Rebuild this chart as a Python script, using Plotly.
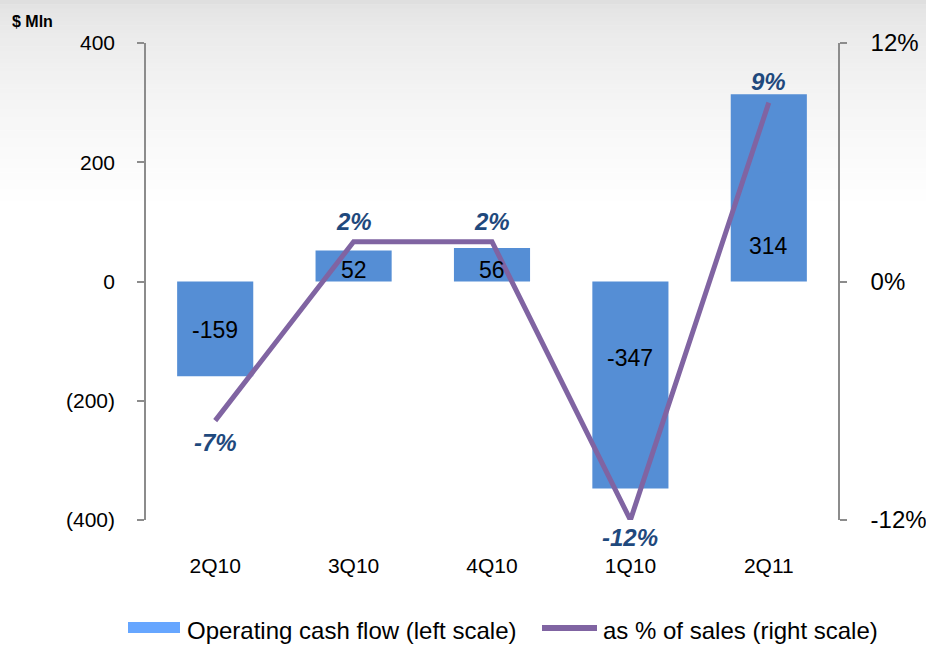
import plotly.graph_objects as go

# Quarterly operating cash flow and its share of sales
quarters = ["2Q10", "3Q10", "4Q10", "1Q10", "2Q11"]
cash_flow_mln = [-159, 52, 56, -347, 314]
pct_of_sales = [-7, 2, 2, -12, 9]

left_tick_vals = [400, 200, 0, -200, -400]
left_tick_text = ["400", "200", "0", "(200)", "(400)"]
right_tick_vals = [12, 0, -12]
right_tick_text = ["12%", "0%", "-12%"]

bar_name = "Operating cash flow (left scale)"
line_name = "as % of sales (right scale)"

BAR_COLOR = "#558ED5"
LEGEND_BAR_COLOR = "#66A6FF"
LINE_COLOR = "#8064A2"
PCT_COLOR = "#1F497D"
AXIS_COLOR = "#8C8C8C"
FONT = "Arial, Liberation Sans, sans-serif"

W, H = 926, 645
M_L, M_R, M_T, M_B = 146, 88, 43, 125
plot_w = W - M_L - M_R
plot_h = H - M_T - M_B


def px_x(x_px):
    """page x in pixels -> paper fraction"""
    return (x_px - M_L) / plot_w


def px_y(y_px):
    """page y in pixels (from top) -> paper fraction"""
    return (H - M_B - y_px) / plot_h


# vertical offsets (px) of the value labels inside the bars, relative to the zero line
label_shift_px = [-48, 12, 12, -76, 36]
# offsets (px) of the percentage labels from the line vertices
pct_shift_px = [-22, 20, 20, -17, 21]

fig = go.Figure()

fig.add_trace(go.Bar(
    x=quarters, y=cash_flow_mln, width=0.55,
    marker=dict(color=BAR_COLOR, line=dict(width=0)),
    name=bar_name, yaxis="y", xaxis="x", hoverinfo="x+y",
))

fig.add_trace(go.Scatter(
    x=quarters, y=pct_of_sales, yaxis="y2", xaxis="x",
    mode="lines", line=dict(color=LINE_COLOR, width=5),
    name=line_name, cliponaxis=False,
))

# value labels inside the bars
for q, v, dy in zip(quarters, cash_flow_mln, label_shift_px):
    fig.add_annotation(
        x=q, y=0, xref="x", yref="y", text=str(v), showarrow=False,
        yshift=dy, font=dict(family=FONT, size=23, color="#000000"),
    )

# percentage labels at the line vertices
for q, v, dy in zip(quarters, pct_of_sales, pct_shift_px):
    fig.add_annotation(
        x=q, y=v, xref="x", yref="y2", text=f"{v}%", showarrow=False,
        yshift=dy,
        font=dict(family=FONT, size=24, color=PCT_COLOR, weight="bold", style="italic"),
    )

# soft grey gradient across the top of the page
bands = 50
bottom_px = 210
for i in range(bands):
    y0_px = bottom_px * i / bands
    y1_px = bottom_px * (i + 1) / bands
    t = i / (bands - 1)
    g = int(round(223 + (255 - 223) * t ** 0.55))
    fig.add_shape(
        type="rect", xref="paper", yref="paper", layer="below",
        x0=px_x(0), x1=px_x(W),
        y0=px_y(y1_px + 0.5), y1=px_y(y0_px),
        fillcolor=f"rgb({g},{g},{g})", line=dict(width=0),
    )

fig.add_annotation(
    x=px_x(10), xanchor="left", y=px_y(21), yanchor="middle",
    xref="paper", yref="paper", text="<b>$ Mln</b>", showarrow=False,
    font=dict(family=FONT, size=16, color="#000000"),
)

# legend row
LEG_Y = 630
fig.add_shape(
    type="rect", xref="paper", yref="paper",
    x0=px_x(128), x1=px_x(180), y0=px_y(633), y1=px_y(622),
    fillcolor=LEGEND_BAR_COLOR, line=dict(width=0),
)
fig.add_annotation(
    x=px_x(185), xanchor="left", y=px_y(LEG_Y), yanchor="middle",
    xref="paper", yref="paper", text=bar_name, showarrow=False,
    font=dict(family=FONT, size=24, color="#000000"),
)
fig.add_shape(
    type="line", xref="paper", yref="paper",
    x0=px_x(542), x1=px_x(597), y0=px_y(628), y1=px_y(628),
    line=dict(color=LINE_COLOR, width=6),
)
fig.add_annotation(
    x=px_x(601), xanchor="left", y=px_y(LEG_Y), yanchor="middle",
    xref="paper", yref="paper", text=line_name, showarrow=False,
    font=dict(family=FONT, size=24, color="#000000"),
)

fig.update_layout(
    width=W, height=H, autosize=False,
    margin=dict(l=M_L, r=M_R, t=M_T, b=M_B, pad=0, autoexpand=False),
    paper_bgcolor="#ffffff", plot_bgcolor="rgba(0,0,0,0)",
    font=dict(family=FONT, size=20, color="#000000"),
    showlegend=False,
    xaxis=dict(
        type="category", range=[-0.5, 4.5], showline=False, showgrid=False,
        zeroline=False, ticks="", ticklabelstandoff=31, automargin=False,
        tickfont=dict(family=FONT, size=21),
    ),
    xaxis2=dict(
        type="linear", overlaying="x", anchor="free", position=0.5,
        range=[-0.5, 4.5], tickvals=[0.5, 1.5, 2.5, 3.5], ticks="outside",
        ticklen=6, tickwidth=1.5, tickcolor=AXIS_COLOR,
        showline=True, linecolor=AXIS_COLOR, linewidth=2,
        showticklabels=False, showgrid=False, zeroline=False, automargin=False,
    ),
    yaxis=dict(
        range=[-400, 400], tickvals=left_tick_vals, ticktext=left_tick_text,
        showline=True, linecolor=AXIS_COLOR, linewidth=1.5,
        ticks="outside", ticklen=7, tickwidth=1.5, tickcolor=AXIS_COLOR,
        showgrid=False, zeroline=False, ticklabelstandoff=18, automargin=False,
        tickfont=dict(family=FONT, size=21),
    ),
    yaxis2=dict(
        range=[-12, 12], tickvals=right_tick_vals, ticktext=right_tick_text,
        overlaying="y", side="right", anchor="x",
        showline=True, linecolor=AXIS_COLOR, linewidth=1.5,
        ticks="outside", ticklen=7, tickwidth=1.5, tickcolor=AXIS_COLOR,
        showgrid=False, zeroline=False, ticklabelstandoff=19, automargin=False,
        tickfont=dict(family=FONT, size=24),
    ),
)

fig.write_html("out.html")
